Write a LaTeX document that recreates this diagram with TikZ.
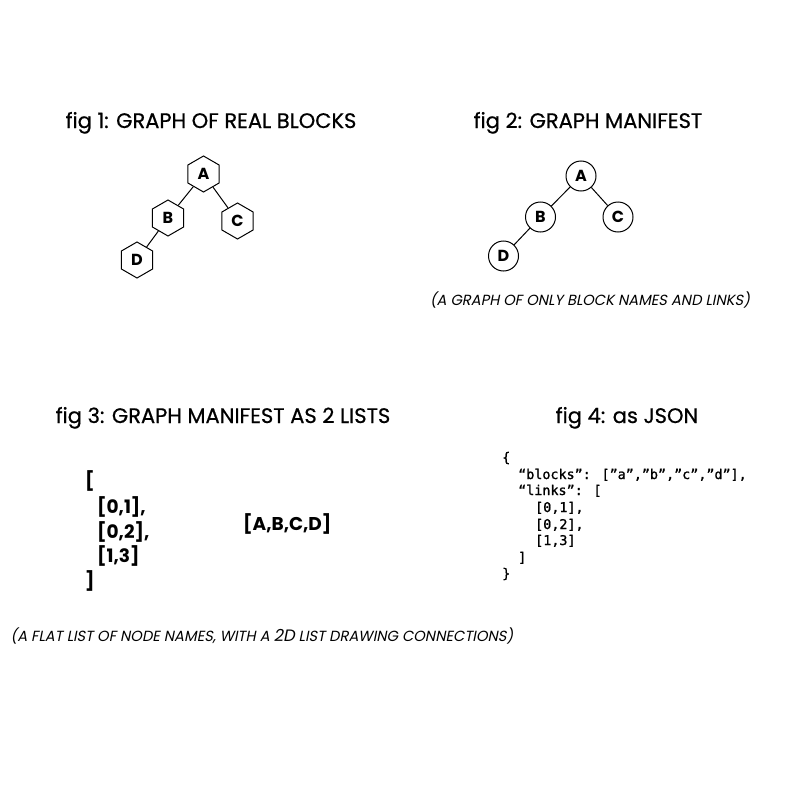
\documentclass[tikz,border=0pt]{standalone}
\usepackage{fontspec}
\setmainfont{Poppins}
\newfontfamily\titlefont[FakeBold=0.6]{Poppins}
\newfontfamily\capfont[FakeSlant=0.2]{Poppins}
\newfontfamily\jsonfont[FakeBold=1.2]{DejaVu Sans Mono}
\usetikzlibrary{shapes.geometric}
\tikzset{
  title/.style={font=\titlefont\fontsize{21}{24}\selectfont, anchor=base},
  hexnode/.style={draw, line width=1pt, regular polygon, regular polygon sides=6, shape border rotate=30, minimum size=36pt, inner sep=0pt, font=\fontsize{16}{18}\selectfont\bfseries},
  circnode/.style={draw, line width=1pt, circle, minimum size=30pt, inner sep=0pt, font=\fontsize{16}{18}\selectfont\bfseries},
  edge/.style={line width=1pt},
  caption/.style={font=\capfont\fontsize{14.7}{17}\selectfont, anchor=base},
  listtext/.style={font=\fontsize{18.5}{22}\selectfont\bfseries, anchor=base west, inner sep=0pt},
  jsonline/.style={font=\jsonfont\fontsize{13.4}{15}\selectfont, anchor=base west, inner sep=0pt},
}
\begin{document}
\begin{tikzpicture}[x=1pt,y=-1pt]
\useasboundingbox (0,0) rectangle (800,800);
% titles
\node[title] (t1) at (211,128) {fig 1: GRAPH OF REAL BLOCKS};
\node[title] (t2) at (588,128) {fig 2: GRAPH MANIFEST};
\node[title] (t3) at (223,423) {fig 3: GRAPH MANIFEST AS 2 LISTS};
\node[title] (t4) at (627,423) {fig 4: as JSON};
% fig 1
\node[hexnode] (hA) at (203.5,174) {A};
\node[hexnode] (hB) at (168,218) {B};
\node[hexnode] (hC) at (237.5,221) {C};
\node[hexnode] (hD) at (137,260) {D};
\draw[edge] (hA) -- (hB);
\draw[edge] (hA) -- (hC);
\draw[edge] (hB) -- (hD);
% fig 2
\node[circnode] (cA) at (581,176) {A};
\node[circnode] (cB) at (540.5,217) {B};
\node[circnode] (cC) at (618,217) {C};
\node[circnode] (cD) at (503.5,256) {D};
\draw[edge] (cA) -- (cB);
\draw[edge] (cA) -- (cC);
\draw[edge] (cB) -- (cD);
\node[caption] (cap2) at (590,305) {(A GRAPH OF ONLY BLOCK NAMES AND LINKS)};
% fig 3
\node[listtext] (l1) at (85,487) {[};
\node[listtext] (l2) at (97,513) {[0,1],};
\node[listtext] (l3) at (97,538) {[0,2],};
\node[listtext] (l4) at (97,562) {[1,3]};
\node[listtext] (l5) at (85,587) {]};
\node[listtext] (names) at (243,530) {[A,B,C,D]};
\node[caption] (cap3) at (262,641) {(A FLAT LIST OF NODE NAMES, WITH A {\fontsize{16.5}{19}\selectfont 2D} LIST DRAWING CONNECTIONS)};
% fig 4
\node[jsonline] (j1) at (502,462) {\{};
\node[jsonline] (j2) at (518,479) {“blocks”: [”a”,”b”,”c”,”d”],};
\node[jsonline] (j3) at (518,495) {“links”: [};
\node[jsonline] (j4) at (535,512) {[0,1],};
\node[jsonline] (j5) at (535,529) {[0,2],};
\node[jsonline] (j6) at (535,545) {[1,3]};
\node[jsonline] (j7) at (518,562) {]};
\node[jsonline] (j8) at (502,578) {\}};
\end{tikzpicture}
\end{document}
